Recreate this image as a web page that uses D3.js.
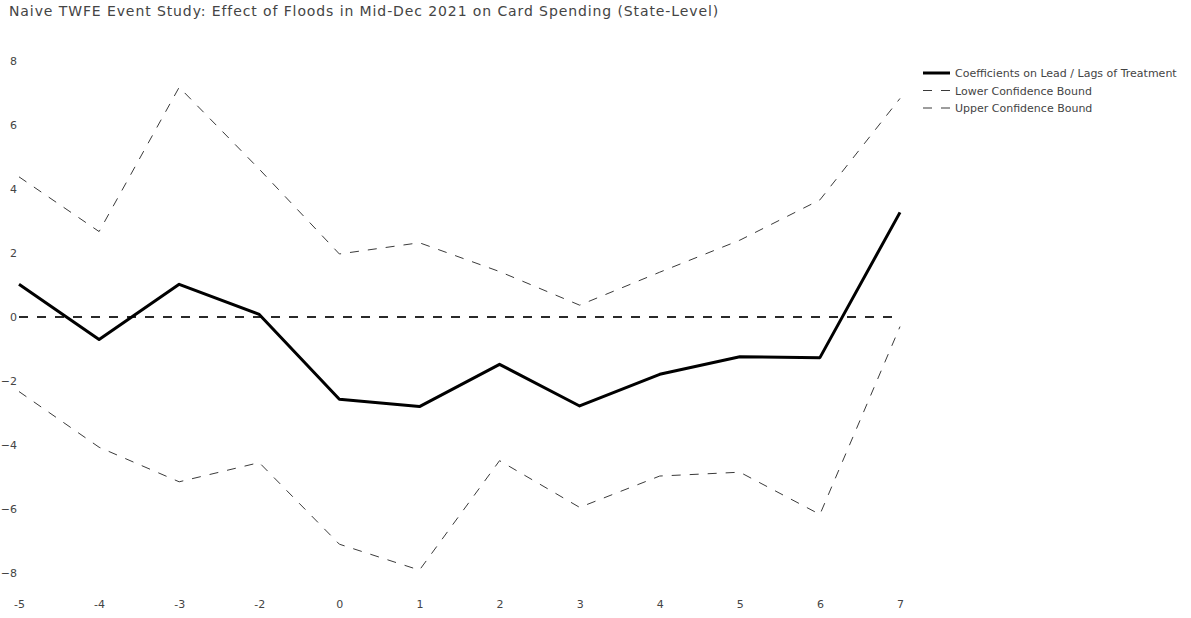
<!DOCTYPE html>
<html>
<head>
<meta charset="utf-8">
<script src="https://cdn.jsdelivr.net/npm/d3@7/dist/d3.min.js"></script>
<style>
  html, body { margin: 0; padding: 0; background: #fff; }
  svg { display: block; font-family: "DejaVu Sans", Verdana, sans-serif; }
</style>
</head>
<body>
<svg id="chart" width="1191" height="618"></svg>
<script>
// Event-time periods relative to the flood (period -1 omitted as reference)
const periods = ["-5", "-4", "-3", "-2", "0", "1", "2", "3", "4", "5", "6", "7"];

// Point estimates on the lead / lag indicators
const coefficients = [1.02, -0.70, 1.02, 0.08, -2.57, -2.80, -1.48, -2.78, -1.79, -1.24, -1.27, 3.27];

// 95% confidence bounds
const upperBound = [4.38, 2.67, 7.18, 4.62, 1.97, 2.32, 1.42, 0.37, 1.40, 2.40, 3.66, 6.83];
const lowerBound = [-2.33, -4.07, -5.15, -4.55, -7.10, -7.91, -4.49, -5.95, -4.97, -4.85, -6.17, -0.30];

const yTicks = [-8, -6, -4, -2, 0, 2, 4, 6, 8];

const legendItems = [
  { name: "Coefficients on Lead / Lags of Treatment", kind: "coef" },
  { name: "Lower Confidence Bound", kind: "bound" },
  { name: "Upper Confidence Bound", kind: "bound" }
];

const svg = d3.select("#chart");
const textColor = "#444";

const x = d3.scalePoint().domain(periods).range([19, 900]);
const y = d3.scaleLinear().domain([-8, 8]).range([573, 61]);

// Title
svg.append("text")
  .attr("x", 9)
  .attr("y", 16)
  .attr("fill", textColor)
  .style("font-size", "14px")
  .style("letter-spacing", "0.9px")
  .text("Naive TWFE Event Study: Effect of Floods in Mid-Dec 2021 on Card Spending (State-Level)");

// Axes (labels only)
const minus = d => d3.format("")(d).replace("-", "\u2212");

const yAxis = svg.append("g")
  .attr("transform", "translate(17,0)")
  .call(d3.axisLeft(y).tickValues(yTicks).tickSize(0).tickPadding(0).tickFormat(minus));
yAxis.select(".domain").remove();
yAxis.selectAll("text").attr("fill", textColor).style("font-size", "11px")
  .style("font-family", "\"DejaVu Sans\", Verdana, sans-serif");

const xAxis = svg.append("g")
  .attr("transform", "translate(0,600)")
  .call(d3.axisBottom(x).tickSize(0).tickPadding(0));
xAxis.select(".domain").remove();
xAxis.selectAll("text").attr("fill", textColor).style("font-size", "11px")
  .style("font-family", "\"DejaVu Sans\", Verdana, sans-serif");

// Zero reference line
svg.append("line")
  .attr("x1", x(periods[0]))
  .attr("x2", x(periods[periods.length - 1]))
  .attr("y1", y(0))
  .attr("y2", y(0))
  .attr("stroke", "#2a2a2a")
  .attr("stroke-width", 2)
  .attr("stroke-dasharray", "9,9");

const line = d3.line()
  .x((d, i) => x(periods[i]))
  .y(d => y(d));

// Confidence bounds
[lowerBound, upperBound].forEach(series => {
  svg.append("path")
    .datum(series)
    .attr("d", line)
    .attr("fill", "none")
    .attr("stroke", "#3a3a3a")
    .attr("stroke-width", 1)
    .attr("stroke-dasharray", "9,9");
});

// Coefficient path
svg.append("path")
  .datum(coefficients)
  .attr("d", line)
  .attr("fill", "none")
  .attr("stroke", "#000")
  .attr("stroke-width", 3)
  .attr("stroke-linejoin", "round");

// Legend
const legend = svg.append("g").attr("transform", "translate(923,73)");
legendItems.forEach((item, i) => {
  const row = legend.append("g").attr("transform", `translate(0,${i * 17.5})`);
  row.append("line")
    .attr("x1", 0).attr("x2", 27).attr("y1", 0).attr("y2", 0)
    .attr("stroke", item.kind === "coef" ? "#000" : "#3a3a3a")
    .attr("stroke-width", item.kind === "coef" ? 3 : 1)
    .attr("stroke-dasharray", item.kind === "coef" ? null : "9,9");
  row.append("text")
    .attr("x", 32)
    .attr("y", 4)
    .attr("fill", textColor)
    .style("font-size", "11px")
    .text(item.name);
});
</script>
</body>
</html>
